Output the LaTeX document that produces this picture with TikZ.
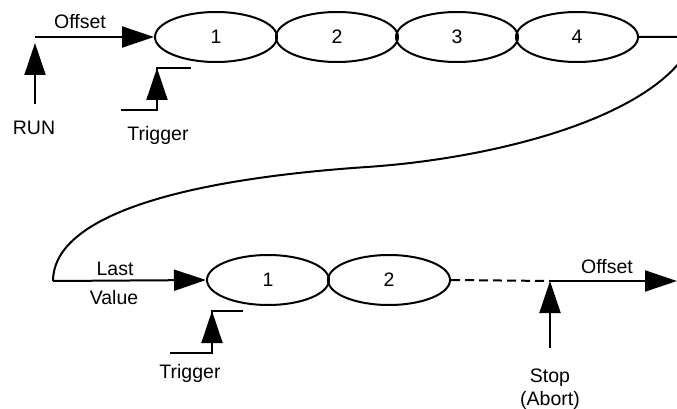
\documentclass[tikz,border=0pt]{standalone}
\usepackage{fontspec}
\setmainfont{Liberation Sans}
\usetikzlibrary{shapes.geometric,arrows.meta}
\begin{document}
\begin{tikzpicture}[x=1pt,y=-1pt,
  line width=2pt, line join=miter,
  every node/.style={font=\fontsize{19.5}{23}\selectfont},
  stage/.style={draw, ellipse, minimum width=122pt, minimum height=50pt, inner sep=0pt},
  lbl/.style={anchor=base, inner sep=0pt},
  arr/.style={-{Triangle[length=32pt,width=21pt]}},
  dashline/.style={dash pattern=on 9pt off 5pt}]
\useasboundingbox (0,0) rectangle (677,409);
\clip (0,0) rectangle (677,409);
% top row
\node[stage] (a1) at (216,37) {1};
\node[stage] (a2) at (337,37) {2};
\node[stage] (a3) at (457,37) {3};
\node[stage] (a4) at (577,37) {4};
\coordinate (start) at (35,37);
\coordinate (runb) at (35,104);
\coordinate (runt) at (35,43);
\draw[arr] (start) -- (a1.west);
\draw[arr] (runb) -- (runt);
\node[lbl] (off1) at (80,29) {Offset};
\node[lbl] (run) at (34,135) {RUN};
% top trigger
\coordinate (t1a) at (121,110);
\coordinate (t1b) at (157,110);
\coordinate (t1c) at (157,68);
\coordinate (t1d) at (191,68);
\draw (t1a) -- (t1b) -- (t1c) -- (t1d);
\draw[arr] (t1b) -- (t1c);
\node[lbl] (trig1) at (158,140) {Trigger};
% connecting curve
\coordinate (ce) at (695,37);
\coordinate (cm) at (367,167);
\coordinate (cs) at (53,281);
\draw (a4.east) -- (ce) .. controls (665,115) and (500,158) .. (cm)
      .. controls (167,180.5) and (53,220) .. (cs);
% bottom row
\node[stage] (b1) at (268,280) {1};
\node[stage] (b2) at (389,280) {2};
\draw[arr] (cs) -- (b1.west);
\node[lbl] (last) at (115,275) {Last};
\node[lbl] (value) at (114,304) {Value};
% bottom trigger
\coordinate (t2a) at (170,353);
\coordinate (t2b) at (212,353);
\coordinate (t2c) at (212,311);
\coordinate (t2d) at (243,311);
\draw (t2a) -- (t2b) -- (t2c) -- (t2d);
\draw[arr] (t2b) -- (t2c);
\node[lbl] (trig2) at (190,378) {Trigger};
% stop
\coordinate (stop) at (550,281);
\coordinate (stopb) at (550,348);
\coordinate (endp) at (677,281);
\draw[dashline] (b2.east) -- (stop);
\draw[arr] (stop) -- (endp);
\draw[arr] (stopb) -- (stop);
\node[lbl] (off2) at (607,273) {Offset};
\node[lbl] (stoplbl) at (550,382) {Stop};
\node[lbl] (abort) at (550,405) {(Abort)};
\end{tikzpicture}
\end{document}
